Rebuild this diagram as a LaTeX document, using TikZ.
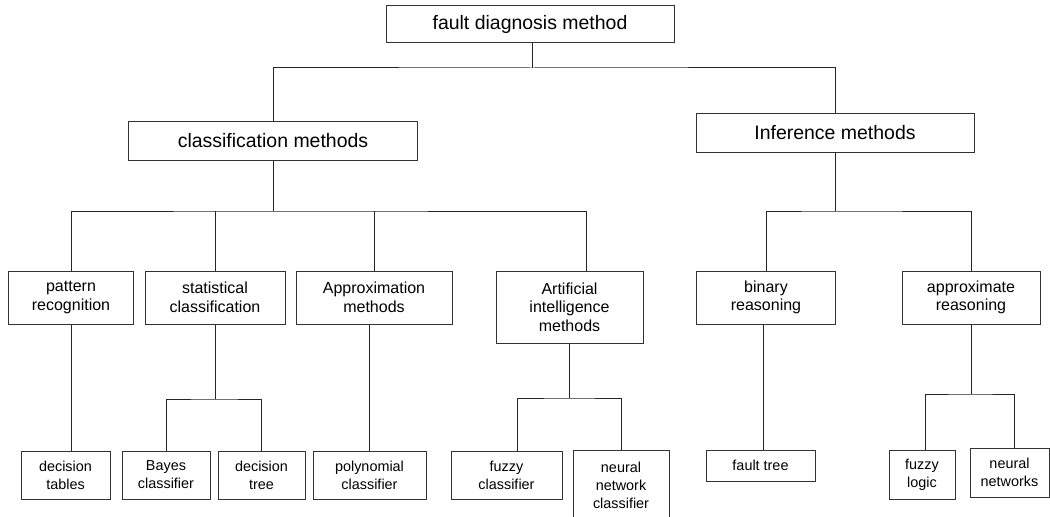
\documentclass[tikz,border=0pt]{standalone}
\usepackage{fontspec}
\setmainfont{Liberation Sans}
\usetikzlibrary{positioning}

\begin{document}
\begin{tikzpicture}[
    x=0.75pt, y=-0.75pt,
    head/.style={draw=black!80, line width=0.75pt, inner sep=0pt, minimum height=28.5pt, font=\fontsize{14.6}{17}\selectfont},
    group/.style={draw=black!80, line width=0.75pt, inner sep=0pt, minimum height=39.75pt, align=center, font=\fontsize{12}{13.9}\selectfont},
    leaf/.style={draw=black!80, line width=0.75pt, inner sep=0pt, minimum height=36pt, align=center, font=\fontsize{10.8}{13.5}\selectfont},
    link/.style={draw=black!85, line width=0.75pt}
]
    \useasboundingbox (0,0) rectangle (1050,517);

    % Top node
    \node[head, minimum width=216pt, minimum height=27.75pt] (fdm) at (530,24.5) {fault diagnosis method};

    % Two main branches
    \node[head, minimum width=216.75pt] (cls) at (273,141) {classification methods};
    \node[head, minimum width=208.5pt] (inf) at (835,133) {Inference methods};

    % Classification methods
    \node[group, minimum width=93.75pt] (pat) at (71,297.5) {pattern\\recognition};
    \node[group, minimum width=105pt] (stat) at (215,297.5) {statistical\\classification};
    \node[group, minimum width=117pt] (appr) at (374,297.5) {Approximation\\methods};
    \node[group, minimum width=110.25pt, minimum height=54pt] (ai) at (569.5,307) {Artificial\\intelligence\\methods};

    % Inference methods
    \node[group, minimum width=104.25pt] (bin) at (766,297.5) {binary\\reasoning};
    \node[group, minimum width=103.5pt] (apr) at (971,297.5) {approximate\\reasoning};

    % Leaves
    \node[leaf, minimum width=66.75pt] (dtab) at (65.5,475) {decision\\tables};
    \node[leaf, minimum width=66pt] (bay) at (166,475) {Bayes\\classifier};
    \node[leaf, minimum width=65.25pt] (dtree) at (261.5,475) {decision\\tree};
    \node[leaf, minimum width=84.75pt] (poly) at (369.5,475) {polynomial\\classifier};
    \node[leaf, minimum width=83.25pt] (fuzc) at (506.5,475) {fuzzy\\classifier};
    \node[leaf, minimum width=72pt, minimum height=52.5pt] (nnc) at (621,485) {neural\\network\\classifier};
    \node[leaf, minimum width=81.75pt, minimum height=23.25pt] (ftree) at (760.5,465.5) {fault tree};
    \node[leaf, minimum width=49.5pt, minimum height=36.75pt] (flog) at (922,474.5) {fuzzy\\logic};
    \node[leaf, minimum width=59.25pt, minimum height=36.75pt] (nnet) at (1009.5,472.5) {neural\\networks};

    % Junctions
    \coordinate (j0) at (532,68);
    \coordinate (j1) at (273,211);
    \coordinate (j2) at (835,211);
    \coordinate (j3) at (215,399);
    \coordinate (j4) at (569.5,398);
    \coordinate (j5) at (971,394);

    % Edges
    \draw[link] (fdm.south -| j0) -- (j0);
    \draw[link] (cls.north) |- (j0) -| (inf.north);

    \draw[link] (cls) -- (j1);
    \draw[link] (pat.north) |- (j1) -| ([xshift=12.4pt]ai.north);
    \draw[link] (stat.north) -- (stat.north |- j1);
    \draw[link] (appr.north) -- (appr.north |- j1);

    \draw[link] (inf) -- (j2);
    \draw[link] (bin.north) |- (j2) -| (apr.north);

    \draw[link] (pat) -- (pat |- dtab.north);
    \draw[link] (stat) -- (j3);
    \draw[link] (bay.north) |- (j3) -| (dtree.north);
    \draw[link] (poly.north) -- (poly.north |- appr.south);
    \draw[link] (ai) -- (j4);
    \draw[link] ([xshift=7.9pt]fuzc.north) |- (j4) -| (nnc.north);

    \draw[link] ([xshift=2pt]ftree.north) -- ([xshift=2pt]ftree.north |- bin.south);
    \draw[link] (apr) -- (j5);
    \draw[link] ([xshift=2.25pt]flog.north) |- (j5) -| ([xshift=4pt]nnet.north);
\end{tikzpicture}
\end{document}
